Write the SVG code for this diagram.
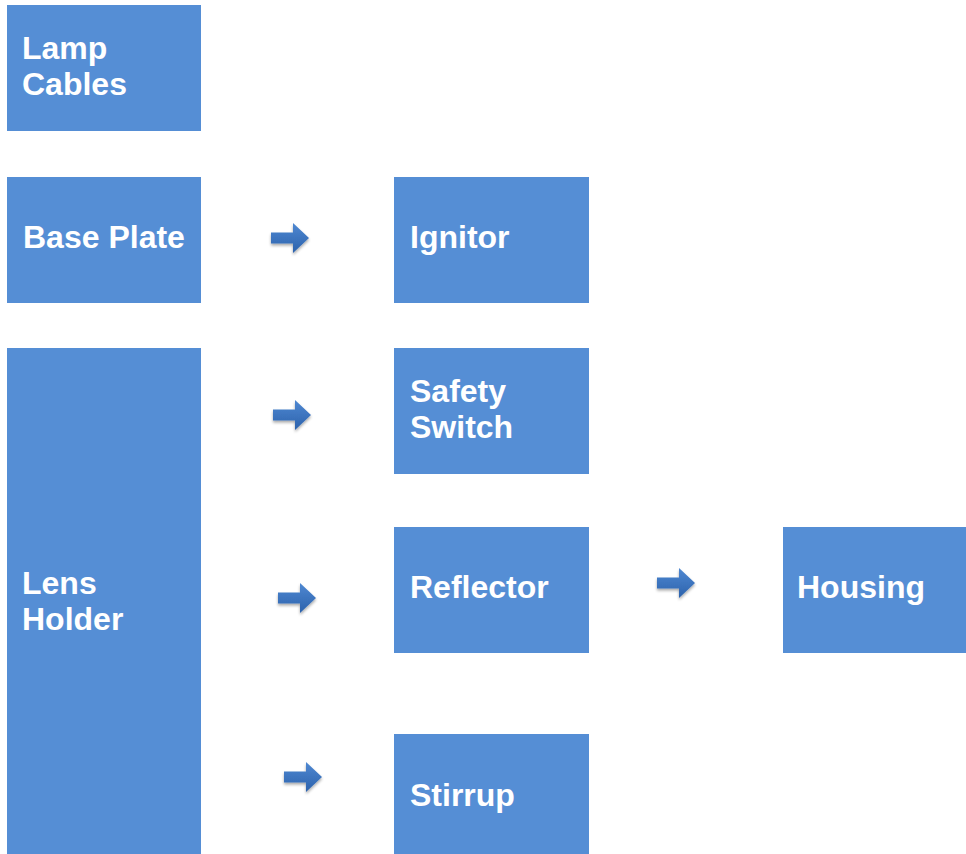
<svg xmlns="http://www.w3.org/2000/svg" width="966" height="854" viewBox="0 0 966 854">
<style>
.box{fill:#558ed5}
.t{font-family:"Liberation Sans",Arial,sans-serif;font-weight:bold;font-size:32px;fill:#ffffff}
</style>
<defs>
<linearGradient id="ag" x1="0" y1="0" x2="0" y2="1">
<stop offset="0" stop-color="#4f88d2"/>
<stop offset="1" stop-color="#2c62ac"/>
</linearGradient>
<filter id="sh" x="-30%" y="-30%" width="160%" height="180%">
<feGaussianBlur in="SourceAlpha" stdDeviation="1.5"/>
<feOffset dx="0" dy="2" result="b"/>
<feComponentTransfer><feFuncA type="linear" slope="0.35"/></feComponentTransfer>
<feMerge><feMergeNode/><feMergeNode in="SourceGraphic"/></feMerge>
</filter>
<path id="arr" d="M0,-5.5 H22 V-15 L38,0 L22,15 V5.5 H0 Z" fill="url(#ag)" filter="url(#sh)"/>
</defs>
<rect width="966" height="854" fill="#ffffff"/>
<g id="connectors">
<use href="#arr" x="271" y="238"/>
<use href="#arr" x="273" y="415"/>
<use href="#arr" x="278" y="598"/>
<use href="#arr" x="284" y="777"/>
<use href="#arr" x="657" y="583"/>
</g>
<g id="lamp-cables"><rect class="box" x="7" y="5" width="194" height="126"/><text class="t" x="22" y="59">Lamp</text><text class="t" x="22" y="95">Cables</text></g>
<g id="base-plate"><rect class="box" x="7" y="177" width="194" height="126"/><text class="t" x="23" y="248">Base Plate</text></g>
<g id="lens-holder"><rect class="box" x="7" y="348" width="194" height="506"/><text class="t" x="22" y="594">Lens</text><text class="t" x="22" y="630">Holder</text></g>
<g id="ignitor"><rect class="box" x="394" y="177" width="195" height="126"/><text class="t" x="410" y="248">Ignitor</text></g>
<g id="safety-switch"><rect class="box" x="394" y="348" width="195" height="126"/><text class="t" x="410" y="402">Safety</text><text class="t" x="410" y="438">Switch</text></g>
<g id="reflector"><rect class="box" x="394" y="527" width="195" height="126"/><text class="t" x="410" y="598">Reflector</text></g>
<g id="stirrup"><rect class="box" x="394" y="734" width="195" height="120"/><text class="t" x="410" y="806">Stirrup</text></g>
<g id="housing"><rect class="box" x="783" y="527" width="183" height="126"/><text class="t" x="797" y="598">Housing</text></g>
</svg>
